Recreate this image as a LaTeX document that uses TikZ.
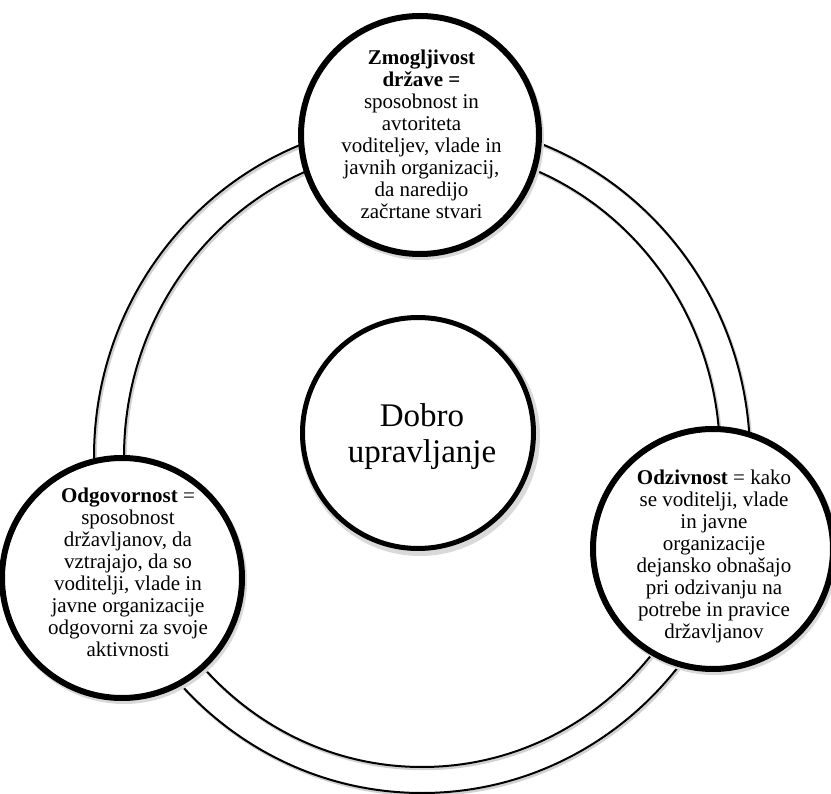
\documentclass[tikz,border=0pt]{standalone}
\usepackage{fontspec}
\setmainfont{Liberation Serif}
\begin{document}
\begin{tikzpicture}[x=1pt,y=-1pt,
  ring/.style={draw=black, line width=2pt},
  ringshadow/.style={draw=black!18, line width=2.5pt},
  bigcirc/.style={circle, draw=black, line width=6pt, fill=white, inner sep=0pt},
  midcirc/.style={circle, draw=black, line width=5pt, fill=white, inner sep=0pt},
  shadowcirc/.style={circle, fill=black!15, inner sep=0pt},
  smalltext/.style={align=center, inner sep=0pt, font=\fontsize{21pt}{22pt}\selectfont},
  bigtext/.style={align=center, inner sep=0pt, font=\fontsize{33pt}{36pt}\selectfont},
  ]
\useasboundingbox (0,0) rectangle (831,794);
% ring
\draw[ringshadow] (423.5,459) ellipse [x radius=328, y radius=336];
\draw[ringshadow] (423.5,459) ellipse [x radius=298, y radius=310];
\draw[ring] (422,457) ellipse [x radius=328, y radius=336];
\draw[ring] (422,457) ellipse [x radius=298, y radius=310];
% shadows of circles
\node[shadowcirc, minimum size=244pt] (topsh) at (422,138) {};
\node[shadowcirc, minimum size=246pt] (leftsh) at (124,581) {};
\node[shadowcirc, minimum size=246pt] (rightsh) at (715,552) {};
\node[shadowcirc, minimum size=240pt] (midsh) at (420,436) {};
% circles
\node[bigcirc, minimum size=238pt] (top) at (420,135) {};
\node[bigcirc, minimum size=240pt] (left) at (122,578) {};
\node[bigcirc, minimum size=240pt] (right) at (713,549) {};
\node[midcirc, minimum size=231pt] (mid) at (418,433) {};
% texts
\node[smalltext] (toptext) at (421.5,134) {\textbf{Zmogljivost}\\\textbf{države =}\\sposobnost in\\avtoriteta\\voditeljev, vlade in\\javnih organizacij,\\da naredijo\\začrtane stvari};
\node[smalltext] (righttext) at (714,556) {\textbf{Odzivnost} = kako\\se voditelji, vlade\\in javne\\organizacije\\dejansko obnašajo\\pri odzivanju na\\potrebe in pravice\\državljanov};
\node[smalltext] (lefttext) at (128,572) {\textbf{Odgovornost} =\\sposobnost\\državljanov, da\\vztrajajo, da so\\voditelji, vlade in\\javne organizacije\\odgovorni za svoje\\aktivnosti};
\node[bigtext] (midtext) at (422,437) {Dobro\\upravljanje};
\end{tikzpicture}
\end{document}
